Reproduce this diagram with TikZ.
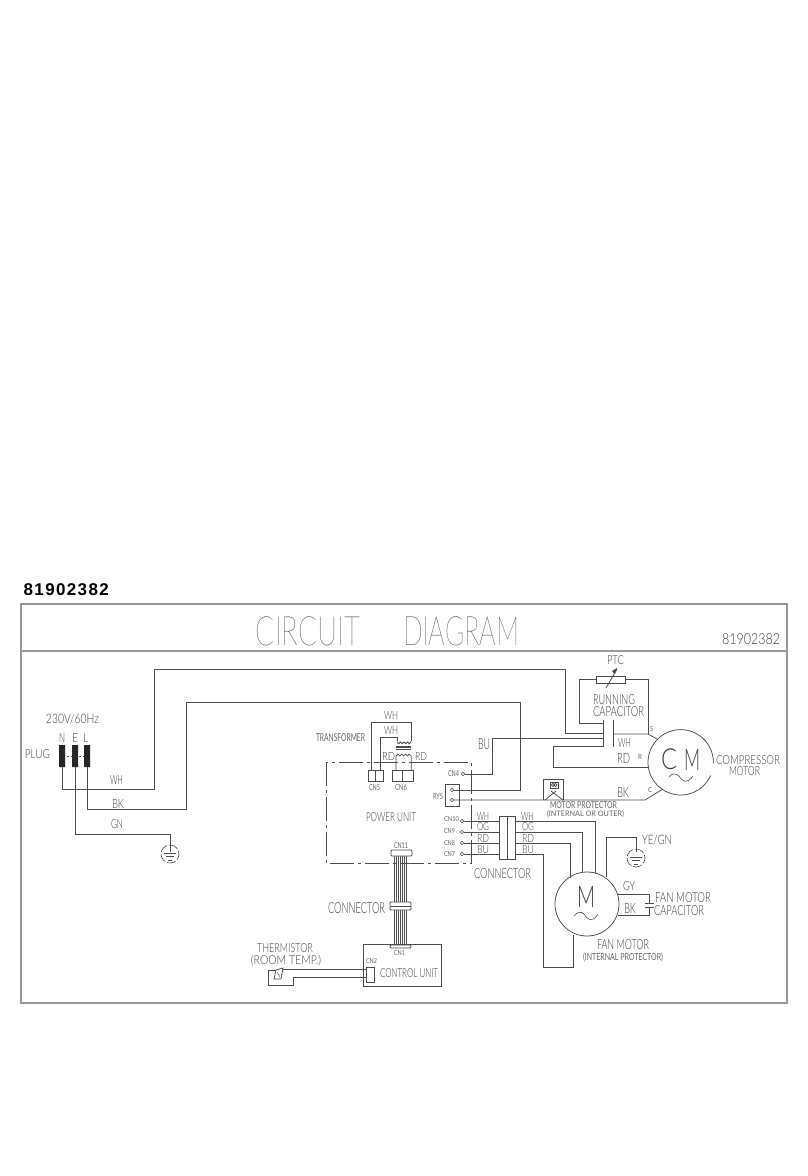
\documentclass[tikz,border=0pt]{standalone}
\usepackage{fontspec}
\usepackage{graphicx}
\setmainfont{Liberation Sans}
\newfontfamily\thinfont{Lato Light}
\newfontfamily\hairfont{Lato Hairline}
\newfontfamily\regfont{Lato}
\usetikzlibrary{calc}
\definecolor{ink}{gray}{0.3}
\definecolor{txt}{gray}{0.25}
\definecolor{smalltxt}{gray}{0.4}
\definecolor{edge}{gray}{0.6}
\tikzset{
  wire/.style={draw=ink,line width=0.75pt,line join=miter},
  part/.style={draw=ink,line width=0.75pt,fill=white},
  thinwire/.style={draw=ink,line width=0.6pt},
  frameline/.style={draw=edge,line width=1.2pt},
  lab/.style={inner sep=0pt,outer sep=0pt,text=txt},
  term/.style={draw=ink,line width=0.6pt,fill=white,circle,inner sep=0pt,minimum size=3.6pt},
  dashbox/.style={draw=ink,line width=0.75pt,dash pattern=on 24pt off 4pt on 3pt off 4pt}
}
\newcommand\txf[7]{%
  \pgfmathsetmacro\tw{#5-#3}\pgfmathsetmacro\th{#6-#4}%
  \pgfmathsetmacro\cx{(#3+#5)/2}\pgfmathsetmacro\cy{(#4+#6)/2}%
  \node[lab] (#2) at (\cx,\cy) {\resizebox*{\tw pt}{\th pt}{#1{}#7}};}
\newcommand\tx{\txf{\thinfont}}
\newcommand\txs{\txf{\regfont\color{smalltxt}}}
\newcommand\txh{\txf{\hairfont\color{black}}}
\newcommand\gnd[3]{%
  \coordinate (#1) at (#2,#3);
  \draw[thinwire] ($(#1)+(-6,-1)$) -- ($(#1)+(6,-1)$);
  \draw[thinwire] ($(#1)+(-4,2.5)$) -- ($(#1)+(4,2.5)$);
  \draw[thinwire] ($(#1)+(-2,6)$) -- ($(#1)+(2,6)$);
  \draw[thinwire,dash pattern=on 9pt off 2pt] ($(#1)+(-90:9)$) arc[start angle=-90,end angle=270,radius=9];
}
\begin{document}
\begin{tikzpicture}[x=1pt,y=-1pt]
\useasboundingbox (0,0) rectangle (808,1176);
\fill[white] (0,0) rectangle (808,1176);
% heading and frame
\node[inner sep=0pt,text=black,anchor=base west] (heading) at (23.5,595) {\fontsize{17}{17}\selectfont\bfseries\addfontfeatures{LetterSpace=8}81902382};
\draw[frameline] (21,604) rectangle (787,1003);
\draw[frameline] (21,651) -- (787,651);
\txh{titleA}{256}{617}{360}{646}{CIRCUIT}
\txh{titleB}{403}{617}{519}{646}{DIAGRAM}
\tx{titleC}{722}{634}{780}{645}{81902382}
% terminals
\coordinate (N) at (62,767); \coordinate (E) at (75,767); \coordinate (L) at (87,767);
\coordinate (capA) at (603,733); \coordinate (capB) at (603,738); \coordinate (capC) at (603,746);
\coordinate (capP) at (603,723); \coordinate (capS) at (613,734);
\coordinate (cm) at (680.7,762.3); \coordinate (fm) at (587,904);
% plug
\draw[ink,dash pattern=on 2pt off 2pt,line width=0.6pt] (59,756) -- (90,756);
\fill[black!85] (59,745) rectangle (65,767) (72,745) rectangle (78,767) (84,745) rectangle (90,767);
\tx{v}{46}{714}{99}{724}{230V/60Hz}
\tx{pn}{59}{733}{65}{742}{N}
\tx{pe}{72}{733}{78}{742}{E}
\tx{pl}{83}{733}{88}{742}{L}
\tx{plug}{25}{750}{50}{759}{PLUG}
\tx{wh1}{110}{775}{123}{784}{WH}
\tx{bk1}{112}{799}{124}{808}{BK}
\tx{gn1}{111}{820}{123}{829}{GN}
% power unit
\draw[dashbox] (326,762) rectangle (471,863);
\tx{pu}{366}{813}{416}{822}{POWER UNIT}
\node[term] (cn4) at (463,774) {};
\node[term] (cn10) at (462,821) {};
\node[term] (cn9) at (462,832) {};
\node[term] (cn8) at (462,843) {};
\node[term] (cn7) at (462,854) {};
\draw[part] (445,784) rectangle (459,806);
\node[term] (ry1) at (452,790) {};
\node[term] (ry2) at (452,800) {};
\txs{l4}{448}{771}{459}{777}{CN4}
\txs{l5}{433}{794}{443}{800}{RY5}
\txs{l10}{444}{817}{459}{822}{CN10}
\txs{l9}{444}{829}{455}{834}{CN9}
\txs{l8}{444}{841}{455}{846}{CN8}
\txs{l7}{444}{852}{455}{857}{CN7}
\txs{l11}{394}{843}{408}{849}{CN11}
% main wires
\draw[wire] (N) |- (154,789) |- (565,669) |- (capA);
\draw[wire] (L) |- (186,809) |- (520,702) |- (ry1.east);
\draw[wire] (E) |- (170,834) -- (170,852);
\gnd{g1}{170}{854}
\draw[wire] (cn4.east) -| (492,738) -- (capB);
\draw[wire] (capC) -| (553,767) -- (648,767);
\draw[wire] (ry2.east) -- (645,800) -- (663,789);
\draw[wire] (capP) -| (579,679) -- (596,679);
\draw[wire] (625,679) -| (648,734);
\draw[wire] (capS) -- (648,734) -- (657,739);
\tx{bu0}{478}{739}{490}{750}{BU}
% capacitor
\draw[wire,line width=1pt] (603,720) -- (603,747);
\draw[wire,line width=1pt] (613,720) -- (613,747);
% PTC
\draw[part] (596,676) rectangle (625,683);
\draw[wire] (606,688) -- (617,669);
\fill[ink] (617,668) -- (612,671) -- (615,674) -- cycle;
\tx{ptc}{607}{656}{624}{665}{PTC}
\tx{run}{593}{695}{635}{705}{RUNNING}
\tx{cap}{593}{707}{644}{717}{CAPACITOR}
\tx{wh2}{618}{738}{631}{747}{WH}
\tx{rd2}{617}{753}{630}{763}{RD}
\tx{bk2}{617}{787}{629}{797}{BK}
\txs{ts}{650}{727}{653}{732}{S}
\txs{tr}{638}{754}{642}{759}{R}
\txs{tc}{648}{788}{652}{793}{C}
% compressor motor
\draw[wire] ($(cm)+(24:32.7)$) arc[start angle=24,end angle=362,radius=32.7];
\tx{cC}{661}{749}{677}{770}{C}
\tx{cM}{684}{749}{700}{770}{M}
\draw[wire,line width=0.6pt] (669,777) .. controls (672,773) and (676,773) .. (679,776) .. controls (682,781) and (687,785) .. (693,776);
\tx{cp}{716}{756}{780}{765}{COMPRESSOR}
\tx{cq}{729}{767}{760}{776}{MOTOR}
% motor protector
\draw[wire] (543,800) |- (563,779) -- (563,800);
\draw[part] (550,782) rectangle (558,788);
\draw[thinwire] (553,785) circle (1.6) (555.5,785) circle (1.6);
\draw[wire] (545,800) -- (556,791);
\draw[wire] (551,791) -- (563,800);
\txs{mp1}{550}{802}{617}{809}{MOTOR PROTECTOR}
\txs{mp2}{547}{811}{624}{818}{(INTERNAL OR OUTER)}
% transformer
\draw[wire] (371,770) |- (411,722) -- (411,741);
\draw[wire] (380,770) |- (397,737) -- (397,741);
\draw[wire] (397,742) arc[start angle=180,end angle=0,radius=1.75] arc[start angle=180,end angle=0,radius=1.75] arc[start angle=180,end angle=0,radius=1.75] arc[start angle=180,end angle=0,radius=1.75] -- (411,741);
\draw[wire,line width=1.3pt] (396,747) -- (411,747);
\draw[thinwire] (396,749.5) -- (411,749.5);
\draw[wire] (396,770) -- (396,756) arc[start angle=180,end angle=360,radius=1.9] arc[start angle=180,end angle=360,radius=1.9] arc[start angle=180,end angle=360,radius=1.9] arc[start angle=180,end angle=360,radius=1.9] -- (411.2,770);
\draw[part] (368,770) rectangle (383,781);
\draw[wire] (375,770) -- (375,781);
\draw[part] (392,770) rectangle (413,781);
\draw[wire] (402,770) -- (402,781);
\tx{wh3}{384}{711}{398}{719}{WH}
\tx{wh4}{384}{726}{398}{734}{WH}
\txs{trf}{316}{734}{365}{742}{TRANSFORMER}
\tx{rd3}{382}{752}{395}{760}{RD}
\tx{rd4}{415}{752}{427}{760}{RD}
\txs{l5b}{369}{785}{380}{791}{CN5}
\txs{l6}{395}{785}{407}{791}{CN6}
% connector block
\draw[wire] (cn10.east) -- (499,821);
\draw[wire] (cn9.east) -- (499,832);
\draw[wire] (cn8.east) -- (499,843);
\draw[wire] (cn7.east) -- (499,854);
\draw[part] (499,816) rectangle (515,859);
\draw[wire] (507,816) -- (507,859);
\draw[wire] (515,821) -| (595,873);
\draw[wire] (515,832) -| (582,872);
\draw[wire] (515,843) -| (570,878);
\draw[wire] (515,854) -| (543,967) -| (573,935);
\tx{w1}{477}{812}{489}{820}{WH}
\tx{w2}{477}{823}{489}{831}{OG}
\tx{w3}{477}{834}{489}{842}{RD}
\tx{w4}{477}{846}{489}{854}{BU}
\tx{w5}{521}{812}{534}{820}{WH}
\tx{w6}{522}{823}{534}{831}{OG}
\tx{w7}{522}{834}{534}{842}{RD}
\tx{w8}{522}{846}{534}{854}{BU}
\tx{conn1}{474}{869}{531}{879}{CONNECTOR}
% fan motor
\draw[wire] (fm) circle (32);
\tx{fM}{577}{886}{595}{907}{M}
\draw[wire,line width=0.6pt] (574,916) .. controls (577,912) and (581,911) .. (584,914) .. controls (587,919) and (592,924) .. (598,914);
\draw[wire] (606,877) |- (636,837) -- (636,852);
\gnd{g2}{636}{858}
\draw[wire] (618,894) -| (649,903);
\draw[wire] (618,915) -| (649,907);
\draw[wire,line width=1pt] (645,903) -- (654,903);
\draw[wire,line width=1pt] (645,907) -- (654,907);
\tx{ye}{642}{835}{672}{845}{YE/GN}
\tx{gy}{623}{882}{635}{891}{GY}
\tx{bk3}{624}{903}{636}{913}{BK}
\tx{fc1}{655}{893}{711}{903}{FAN MOTOR}
\tx{fc2}{654}{906}{704}{916}{CAPACITOR}
\tx{fm1}{597}{940}{649}{950}{FAN MOTOR}
\txs{fm2}{583}{953}{663}{962}{(INTERNAL PROTECTOR)}
% signal bundle
\foreach \bx in {394.5,396.5,398.5,400.5,402.5,404.5,406.5} {\draw[thinwire] (\bx,856) -- (\bx,945);}
\draw[part,rounded corners=1pt] (391,850) rectangle (412,856);
\draw[part,rounded corners=1pt] (390,902) rectangle (411,910);
\draw[wire] (390,906) -- (411,906);
\tx{conn2}{328}{903}{385}{914}{CONNECTOR}
% control unit
\draw[wire] (363,944) rectangle (441,986);
\draw[part,rounded corners=1pt] (390,945) rectangle (411,948);
\draw[part] (366,967) rectangle (374,982);
\txs{l1}{394}{951}{405}{956}{CN1}
\txs{l2}{366}{959}{377}{964}{CN2}
\tx{cu}{380}{969}{438}{978}{CONTROL UNIT}
\draw[wire] (366,969) -- (282,969);
\draw[wire] (366,977) -| (293,985) -| (268,970) -- (276,970);
\draw[part] (276,970) -- (283,968) -- (281,979) -- (274,979) -- cycle;
\draw[wire,line width=0.5pt] (277,972) -- (280,977);
\tx{th1}{257}{944}{313}{953}{THERMISTOR}
\tx{th2}{251}{955}{321}{966}{(ROOM TEMP.)}
\end{tikzpicture}
\end{document}
